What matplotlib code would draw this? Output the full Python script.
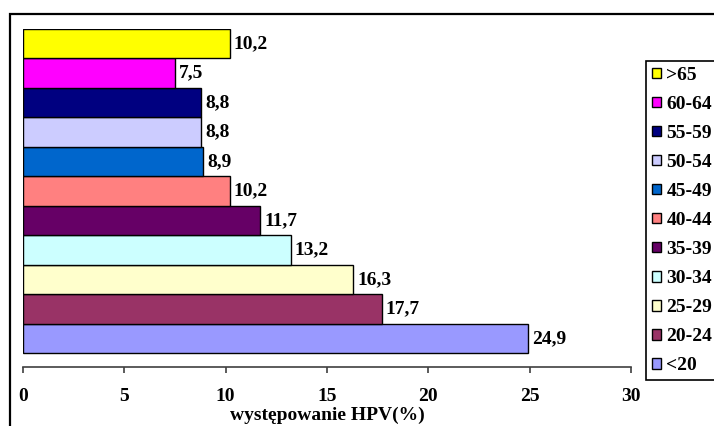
import matplotlib
matplotlib.use('Agg')
import matplotlib.pyplot as plt
from matplotlib.patches import Rectangle

plt.rcParams['font.family'] = ['Liberation Serif', 'DejaVu Serif']
plt.rcParams['font.weight'] = 'bold'

groups = ['<20', '20-24', '25-29', '30-34', '35-39', '40-44', '45-49', '50-54', '55-59', '60-64', '>65']
hpv = [24.9, 17.7, 16.3, 13.2, 11.7, 10.2, 8.9, 8.8, 8.8, 7.5, 10.2]
colors = ['#9999FF', '#993366', '#FFFFCC', '#CCFFFF', '#660066', '#FF8080',
          '#0066CC', '#CCCCFF', '#000080', '#FF00FF', '#FFFF00']

W, H = 714, 426
FS = 14
fig = plt.figure(figsize=(W / 100, H / 100), dpi=100)
ax = fig.add_axes([23 / W, 1 - 367 / H, 608 / W, 338 / H])

bars = []
for i, (g, v, c) in enumerate(zip(groups, hpv, colors)):
    b = ax.barh(i, v, height=1.0, color=c, edgecolor='black', linewidth=1, label=g)
    bars.append(b)
    ax.text(v + 0.2, i, f'{v:.1f}'.replace('.', ','), va='center', ha='left',
            fontsize=FS, fontweight='bold')

ax.set_xlim(0, 30)
ax.set_ylim(-0.975, 10.5)
ax.set_xticks(range(0, 31, 5))
ax.set_yticks([])
for s in ['left', 'top', 'right']:
    ax.spines[s].set_visible(False)
ax.spines['bottom'].set_color('#404040')
ax.spines['bottom'].set_linewidth(1.2)
ax.tick_params(axis='x', direction='out', length=4.5, width=1.2, color='#404040',
               labelsize=FS, pad=10.5)
for t in ax.get_xticklabels():
    t.set_fontweight('bold')
ax.set_xlabel('występowanie HPV(%)', fontsize=FS, fontweight='bold', labelpad=1)

handles = bars[::-1]
leg = fig.legend(handles, groups[::-1], loc='upper left',
                 bbox_to_anchor=(646 / W, 1 - 61 / H), borderaxespad=0,
                 fancybox=False, edgecolor='black', framealpha=1,
                 prop={'weight': 'bold', 'size': FS},
                 handlelength=0.45, handleheight=0.45, handletextpad=0.3,
                 labelspacing=0.62, borderpad=0.3)
leg.get_frame().set_linewidth(1.2)

fig.patches.append(Rectangle((10 / W, -0.1), 1.2, 1 - 14 / H + 0.1,
                             transform=fig.transFigure, fill=False,
                             edgecolor='black', linewidth=1.6))

fig.savefig('out.png', dpi=100)
